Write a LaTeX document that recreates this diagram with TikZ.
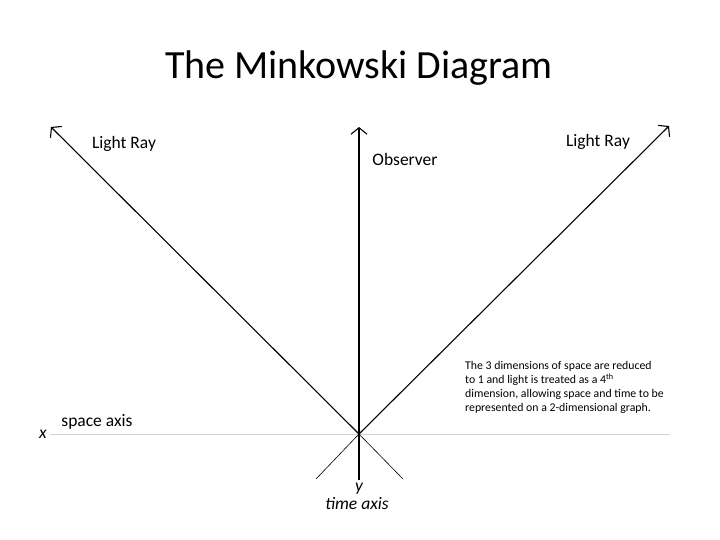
\documentclass[tikz,border=0pt]{standalone}
\usepackage{fontspec}
\setmainfont{Carlito}
\usetikzlibrary{arrows.meta}

\begin{document}
\begin{tikzpicture}[x=1pt,y=-1pt]
    \useasboundingbox (0,0) rectangle (720,540);
    \tikzset{ray/.style={line width=1.1pt,-{Straight Barb[length=6.5pt,width=16pt]}},
             lbl/.style={font=\fontsize{17.5}{20}\selectfont, inner sep=0pt}}

    % event at the origin and the ends of the lines
    \coordinate (o) at (359,434);
    \coordinate (lray) at (51,127);
    \coordinate (rray) at (669,126);
    \coordinate (tup) at (359,127);
    \coordinate (tdown) at (359,480);
    \coordinate (lpast) at (316,479);
    \coordinate (rpast) at (403,479);
    \coordinate (xleft) at (50,434);
    \coordinate (xright) at (670,434);

    \draw[gray!35, line width=0.9pt] (xleft) -- (xright);

    \draw[ray] (o) -- (lray);
    \draw[ray] (o) -- (rray);
    \draw[ray] (tdown) -- (tup);
    \draw[line width=0.6pt] (o) -- (lpast);
    \draw[line width=0.6pt] (o) -- (rpast);

    \node (title) at (359,68) {\fontsize{40}{48}\selectfont The Minkowski Diagram};
    \node[lbl] (lleft) at (124,144) {Light Ray};
    \node[lbl] (lright) at (598,142) {Light Ray};
    \node[lbl] (obs) at (405,159) {Observer};
    \node[lbl] (space) at (97,422) {space axis};
    \node[lbl] (xlab) at (43,434) {\itshape x};
    \node[lbl] (ylab) at (359,489) {\itshape y};
    \node[lbl] (time) at (357,504) {\itshape time axis};

    \node[anchor=north west, align=left, inner sep=0pt, font=\fontsize{11.8}{14.2}\selectfont] (note) at (465,361)
        {The 3 dimensions of space are reduced\\
         to 1 and light is treated as a 4\textsuperscript{th}\\
         dimension, allowing space and time to be\\
         represented on a 2-dimensional graph.};
\end{tikzpicture}
\end{document}
